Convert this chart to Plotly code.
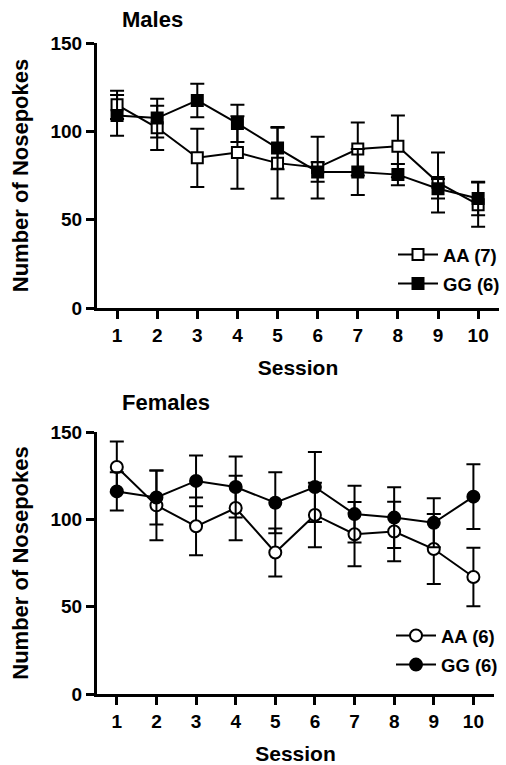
import plotly.graph_objects as go

sessions = [1, 2, 3, 4, 5, 6, 7, 8, 9, 10]

male_aa = [115, 102, 85, 88, 82, 79.5, 90, 91.5, 71, 58.5]
male_aa_err = [8, 12.5, 16.5, 20.5, 20, 17.5, 15, 17.5, 17, 12.5]
male_gg = [109, 107.5, 117.5, 104.5, 90.5, 77, 77, 75.5, 67.5, 62]
male_gg_err = [11.5, 11, 9.5, 10.5, 12, 5.5, 13, 6, 5.5, 9.5]

female_aa = [130, 108, 96, 106.5, 81, 102.5, 91.5, 93, 83, 67]
female_aa_err = [14.5, 20, 16.5, 18.5, 13.7, 18.5, 18.4, 17, 20, 16.8]
female_gg = [116, 112.5, 122, 118.5, 109.5, 118.5, 103, 101, 98, 113]
female_gg_err = [11, 15.5, 14.5, 17.5, 17.5, 20, 16.2, 17.4, 14, 18.5]

y_ticks = [0, 50, 100, 150]
x_ticks = sessions

W, H = 506, 765
FONT = "Liberation Sans, Arial, sans-serif"


def px_x(p):
    return p / W


def px_y(p):
    return 1 - p / H


def err(vals):
    return dict(type="data", array=vals, visible=True, color="black",
                thickness=2, width=7)


fig = go.Figure()

# Males
fig.add_trace(go.Scatter(
    x=sessions, y=male_aa, error_y=err(male_aa_err), name="AA (7)",
    mode="lines+markers", xaxis="x", yaxis="y", legend="legend",
    legendgroup="m1",
    line=dict(color="black", width=2),
    marker=dict(symbol="square", size=11, color="white",
                line=dict(color="black", width=2))))
fig.add_trace(go.Scatter(
    x=sessions, y=male_gg, error_y=err(male_gg_err), name="GG (6)",
    mode="lines+markers", xaxis="x", yaxis="y", legend="legend",
    legendgroup="m2",
    line=dict(color="black", width=2),
    marker=dict(symbol="square", size=11, color="black",
                line=dict(color="black", width=2))))

# Females
fig.add_trace(go.Scatter(
    x=sessions, y=female_aa, error_y=err(female_aa_err), name="AA (6)",
    mode="lines+markers", xaxis="x2", yaxis="y2", legend="legend2",
    legendgroup="f1",
    line=dict(color="black", width=2),
    marker=dict(symbol="circle", size=12, color="white",
                line=dict(color="black", width=2))))
fig.add_trace(go.Scatter(
    x=sessions, y=female_gg, error_y=err(female_gg_err), name="GG (6)",
    mode="lines+markers", xaxis="x2", yaxis="y2", legend="legend2",
    legendgroup="f2",
    line=dict(color="black", width=2),
    marker=dict(symbol="circle", size=12, color="black",
                line=dict(color="black", width=2))))

xcommon = dict(range=[0.5, 10.52], tickvals=x_ticks, ticks="outside",
               ticklen=8, tickwidth=2.5, tickcolor="black", showline=True,
               linecolor="black", linewidth=3, showgrid=False, zeroline=False,
               automargin=False,
               tickfont=dict(family=FONT, size=19, color="black", weight="bold"),
               title=dict(text="Session", standoff=16,
                          font=dict(family=FONT, size=21, color="black",
                                    weight="bold")),
               fixedrange=True)
ycommon = dict(range=[0, 150], tickvals=y_ticks, ticks="outside",
               ticklen=8, tickwidth=2.5, tickcolor="black", showline=True,
               linecolor="black", linewidth=3, showgrid=False, zeroline=False,
               automargin=False,
               tickfont=dict(family=FONT, size=19, color="black", weight="bold"),
               title=dict(text="Number of Nosepokes", standoff=16,
                          font=dict(family=FONT, size=22, color="black",
                                    weight="bold")),
               fixedrange=True)

legend_common = dict(font=dict(family=FONT, size=18.5, color="black",
                               weight="bold"),
                     bgcolor="rgba(0,0,0,0)", borderwidth=0,
                     xanchor="left", yanchor="top", itemwidth=40,
                     tracegroupgap=2)

fig.update_layout(
    template="none",
    width=W, height=H,
    margin=dict(l=0, r=0, t=0, b=0, autoexpand=False),
    paper_bgcolor="white", plot_bgcolor="white",
    showlegend=True,
    xaxis=dict(xcommon, domain=[px_x(97), px_x(499)], anchor="y"),
    yaxis=dict(ycommon, domain=[px_y(308), px_y(43)], anchor="x"),
    xaxis2=dict(xcommon, domain=[px_x(97), px_x(494)], anchor="y2"),
    yaxis2=dict(ycommon, domain=[px_y(694), px_y(432)], anchor="x2"),
    legend=dict(legend_common, x=px_x(393), y=px_y(236)),
    legend2=dict(legend_common, x=px_x(391), y=px_y(617)),
    annotations=[
        dict(text="Males", x=px_x(120), y=px_y(19), xref="paper",
             yref="paper", xanchor="left", yanchor="middle", showarrow=False,
             font=dict(family=FONT, size=22, color="black", weight="bold")),
        dict(text="Females", x=px_x(120), y=px_y(402), xref="paper",
             yref="paper", xanchor="left", yanchor="middle", showarrow=False,
             font=dict(family=FONT, size=22, color="black", weight="bold")),
    ],
)

fig.write_html("out.html",
               config={"displayModeBar": False},
               post_script="document.body.style.margin='0px';")
